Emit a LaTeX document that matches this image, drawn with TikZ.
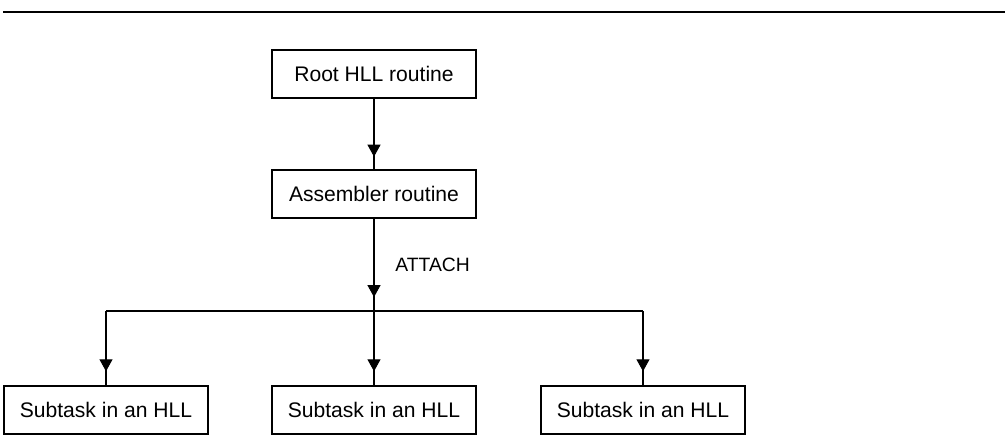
\documentclass[tikz,border=0pt]{standalone}
\usepackage{fontspec}
\setmainfont{Liberation Sans}
\usepackage{tikz}
\usetikzlibrary{arrows.meta, positioning, calc}

\begin{document}
\begin{tikzpicture}[x=0.02cm, y=-0.02cm, line width=0.6pt,
  tip/.style={-{Triangle[width=0.26cm, length=0.24cm]}}]

% Uniform box size
\def\boxwidth{4.08cm}
\def\boxheight{0.96cm}

\useasboundingbox (0,0) rectangle (1005,439);

% Top rule
\draw[line width=0.8pt] (3,12) -- (1005,12);

\node[draw, minimum width=\boxwidth, minimum height=\boxheight, font=\fontsize{12}{14}\selectfont] (root) at (374,74)  {Root HLL routine};
\node[draw, minimum width=\boxwidth, minimum height=\boxheight, font=\fontsize{12}{14}\selectfont] (asm)  at (374,194) {Assembler routine};

\node[draw, minimum width=\boxwidth, minimum height=\boxheight, font=\fontsize{12}{14}\selectfont] (suba) at (106,410) {Subtask in an HLL};
\node[draw, minimum width=\boxwidth, minimum height=\boxheight, font=\fontsize{12}{14}\selectfont] (subb) at (374,410) {Subtask in an HLL};
\node[draw, minimum width=\boxwidth, minimum height=\boxheight, font=\fontsize{12}{14}\selectfont] (subc) at (643,410) {Subtask in an HLL};

% Root to assembler
\draw (root.south) -- (asm.north);
\draw[tip] (root.south) -- ($(root.south)!0.82!(asm.north)$);

% ATTACH down to the branch line
\coordinate (hub) at (374,311);
\draw (asm.south) -- node[right=0.3cm, font=\fontsize{11}{13}\selectfont] {ATTACH} (hub);
\draw[tip] (asm.south) -- ($(asm.south)!0.85!(hub)$);

\draw (hub -| suba.north) -- (hub -| subc.north);

% Branches to the subtasks
\draw (hub -| suba.north) -- (suba.north);
\draw[tip] (hub -| suba.north) -- ($(hub -| suba.north)!0.81!(suba.north)$);
\draw (hub) -- (subb.north);
\draw[tip] (hub) -- ($(hub)!0.81!(subb.north)$);
\draw (hub -| subc.north) -- (subc.north);
\draw[tip] (hub -| subc.north) -- ($(hub -| subc.north)!0.81!(subc.north)$);

\end{tikzpicture}
\end{document}
